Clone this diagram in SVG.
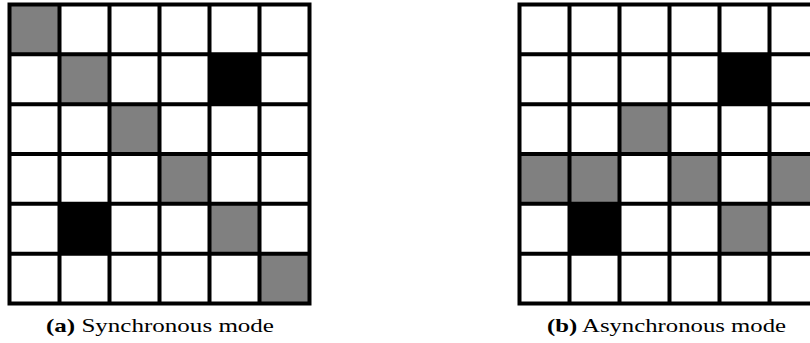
<svg xmlns="http://www.w3.org/2000/svg" width="810" height="343" viewBox="0 0 810 343">
  <style>
    .g { fill: #808080; }
    .k { fill: #000000; }
    .w { fill: #ffffff; }
    .line { stroke: #000; stroke-width: 4; fill: none; }
    .cap { font-family: "Liberation Serif", "Times New Roman", serif; font-size: 19px; fill: #000; }
    .bold { font-weight: bold; }
  </style>
  <defs>
    <g id="grid">
      <rect class="line" x="0" y="0" width="300" height="299"/>
      <path class="line" d="M50,0V299M100,0V299M150,0V299M200,0V299M250,0V299M0,49.83H300M0,99.67H300M0,149.5H300M0,199.33H300M0,249.17H300"/>
    </g>
  </defs>
  <rect x="0" y="0" width="810" height="343" fill="#fff"/>

  <g id="gridA" transform="translate(9.5,4.5)">
    <rect class="w" x="0" y="0" width="300" height="299"/>
    <rect class="g" x="0" y="0" width="50" height="49.83"/>
    <rect class="g" x="50" y="49.83" width="50" height="49.83"/>
    <rect class="g" x="100" y="99.67" width="50" height="49.83"/>
    <rect class="g" x="150" y="149.5" width="50" height="49.83"/>
    <rect class="g" x="200" y="199.33" width="50" height="49.83"/>
    <rect class="g" x="250" y="249.17" width="50" height="49.83"/>
    <rect class="k" x="200" y="49.83" width="50" height="49.83"/>
    <rect class="k" x="50" y="199.33" width="50" height="49.83"/>
    <use href="#grid"/>
  </g>

  <g id="gridB" transform="translate(519.5,4.5)">
    <rect class="w" x="0" y="0" width="300" height="299"/>
    <rect class="k" x="200" y="49.83" width="50" height="49.83"/>
    <rect class="g" x="100" y="99.67" width="50" height="49.83"/>
    <rect class="g" x="0" y="149.5" width="50" height="49.83"/>
    <rect class="g" x="50" y="149.5" width="50" height="49.83"/>
    <rect class="g" x="150" y="149.5" width="50" height="49.83"/>
    <rect class="g" x="250" y="149.5" width="50" height="49.83"/>
    <rect class="k" x="50" y="199.33" width="50" height="49.83"/>
    <rect class="g" x="200" y="199.33" width="50" height="49.83"/>
    <use href="#grid"/>
  </g>

  <g id="captionA">
    <text class="cap" x="46" y="332" textLength="228" lengthAdjust="spacingAndGlyphs"><tspan class="bold">(a)</tspan> Synchronous mode</text>
  </g>
  <g id="captionB">
    <text class="cap" x="547" y="332" textLength="239" lengthAdjust="spacingAndGlyphs"><tspan class="bold">(b)</tspan> Asynchronous mode</text>
  </g>
</svg>
